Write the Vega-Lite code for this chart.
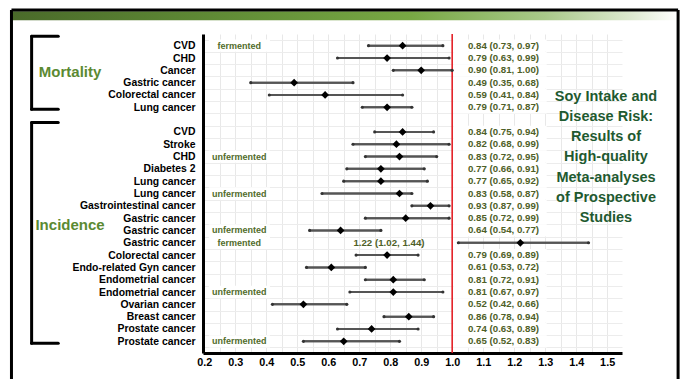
{
"$schema":"https://vega.github.io/schema/vega-lite/v6.json",
"width":419,"height":319,
"autosize":{"type":"none"},
"padding":{"left":203,"top":34,"right":63,"bottom":26},
"background":"white",
"config":{"view":{"stroke":null},"font":"Liberation Sans","axisX":{"labelOverlap":false,"labelFlush":false}},
"title":{"text":["Soy Intake and","Disease Risk:","Results of","High-quality","Meta-analyses","of Prospective","Studies"],"orient":"top","anchor":"start","frame":"group","align":"center","baseline":"top","dx":403,"dy":217,"offset":0,"fontSize":14.5,"fontWeight":"bold","color":"#1f5a30","lineHeight":20.2,"font":"Liberation Sans"},
"datasets":{
"rows":[
{"key":"01|CVD","est":0.84,"lo":0.73,"hi":0.97,"ferment":"fermented","ci":"0.84 (0.73, 0.97)"},
{"key":"02|CHD","est":0.79,"lo":0.63,"hi":0.99,"ferment":"","ci":"0.79 (0.63, 0.99)"},
{"key":"03|Cancer","est":0.90,"lo":0.81,"hi":1.00,"ferment":"","ci":"0.90 (0.81, 1.00)"},
{"key":"04|Gastric cancer","est":0.49,"lo":0.35,"hi":0.68,"ferment":"","ci":"0.49 (0.35, 0.68)"},
{"key":"05|Colorectal cancer","est":0.59,"lo":0.41,"hi":0.84,"ferment":"","ci":"0.59 (0.41, 0.84)"},
{"key":"06|Lung cancer","est":0.79,"lo":0.71,"hi":0.87,"ferment":"","ci":"0.79 (0.71, 0.87)"},
{"key":"08|CVD","est":0.84,"lo":0.75,"hi":0.94,"ferment":"","ci":"0.84 (0.75, 0.94)"},
{"key":"09|Stroke","est":0.82,"lo":0.68,"hi":0.99,"ferment":"","ci":"0.82 (0.68, 0.99)"},
{"key":"10|CHD","est":0.83,"lo":0.72,"hi":0.95,"ferment":"unfermented","ci":"0.83 (0.72, 0.95)"},
{"key":"11|Diabetes 2","est":0.77,"lo":0.66,"hi":0.91,"ferment":"","ci":"0.77 (0.66, 0.91)"},
{"key":"12|Lung cancer","est":0.77,"lo":0.65,"hi":0.92,"ferment":"","ci":"0.77 (0.65, 0.92)"},
{"key":"13|Lung cancer","est":0.83,"lo":0.58,"hi":0.87,"ferment":"unfermented","ci":"0.83 (0.58, 0.87)"},
{"key":"14|Gastrointestinal cancer","est":0.93,"lo":0.87,"hi":0.99,"ferment":"","ci":"0.93 (0.87, 0.99)"},
{"key":"15|Gastric cancer","est":0.85,"lo":0.72,"hi":0.99,"ferment":"","ci":"0.85 (0.72, 0.99)"},
{"key":"16|Gastric cancer","est":0.64,"lo":0.54,"hi":0.77,"ferment":"unfermented","ci":"0.64 (0.54, 0.77)"},
{"key":"17|Gastric cancer","est":1.22,"lo":1.02,"hi":1.44,"ferment":"fermented","ci":"1.22 (1.02, 1.44)"},
{"key":"18|Colorectal cancer","est":0.79,"lo":0.69,"hi":0.89,"ferment":"","ci":"0.79 (0.69, 0.89)"},
{"key":"19|Endo-related Gyn cancer","est":0.61,"lo":0.53,"hi":0.72,"ferment":"","ci":"0.61 (0.53, 0.72)"},
{"key":"20|Endometrial cancer","est":0.81,"lo":0.72,"hi":0.91,"ferment":"","ci":"0.81 (0.72, 0.91)"},
{"key":"21|Endometrial cancer","est":0.81,"lo":0.67,"hi":0.97,"ferment":"unfermented","ci":"0.81 (0.67, 0.97)"},
{"key":"22|Ovarian cancer","est":0.52,"lo":0.42,"hi":0.66,"ferment":"","ci":"0.52 (0.42, 0.66)"},
{"key":"23|Breast cancer","est":0.86,"lo":0.78,"hi":0.94,"ferment":"","ci":"0.86 (0.78, 0.94)"},
{"key":"24|Prostate cancer","est":0.74,"lo":0.63,"hi":0.89,"ferment":"","ci":"0.74 (0.63, 0.89)"},
{"key":"25|Prostate cancer","est":0.65,"lo":0.52,"hi":0.83,"ferment":"unfermented","ci":"0.65 (0.52, 0.83)"}
],
"groups":[
{"group":"Mortality","first":"01|CVD","last":"06|Lung cancer","mid":"03|Cancer"},
{"group":"Incidence","first":"08|CVD","last":"25|Prostate cancer","mid":"15|Gastric cancer"}
],
"one":[{}]
},
"data":{"name":"rows"},
"layer":[
{"mark":{"type":"rule","color":"#555555","strokeWidth":2},
 "encoding":{
  "x":{"field":"lo","type":"quantitative","title":null,"scale":{"domain":[0.196,1.548],"nice":false,"zero":false},
   "axis":{"title":null,"values":[0.2,0.25,0.3,0.35,0.4,0.45,0.5,0.55,0.6,0.65,0.7,0.75,0.8,0.85,0.9,0.95,1.0,1.05,1.1,1.15,1.2,1.25,1.3,1.35,1.4,1.45,1.5],"labelExpr":"abs(datum.value*10 - round(datum.value*10)) < 0.01 ? format(datum.value, '.1f') : ''","ticks":false,"domainColor":"black","domainWidth":3,"labelFont":"Liberation Sans","labelFontSize":10.8,"labelFontWeight":"bold","labelColor":"black","labelPadding":3,"labelFlush":false,"labelOverlap":false,"grid":true,"gridColor":"#e8e8e8","gridWidth":1}},
  "x2":{"field":"hi"},
  "y":{"field":"key","type":"nominal","title":null,
   "scale":{"type":"band","domain":["01|CVD","02|CHD","03|Cancer","04|Gastric cancer","05|Colorectal cancer","06|Lung cancer","07|","08|CVD","09|Stroke","10|CHD","11|Diabetes 2","12|Lung cancer","13|Lung cancer","14|Gastrointestinal cancer","15|Gastric cancer","16|Gastric cancer","17|Gastric cancer","18|Colorectal cancer","19|Endo-related Gyn cancer","20|Endometrial cancer","21|Endometrial cancer","22|Ovarian cancer","23|Breast cancer","24|Prostate cancer","25|Prostate cancer"],"paddingInner":0,"paddingOuter":0.45},
   "axis":{"title":null,"ticks":false,"domainColor":"black","domainWidth":3,"labelFont":"Liberation Sans","labelFontSize":10.4,"labelFontWeight":"bold","labelColor":"black","labelPadding":8,"labelExpr":"slice(datum.label, 3)","grid":true,"gridColor":"#ececec","tickBand":"extent"}}}},
{"data":{"name":"one"},
 "mark":{"type":"bar","size":9,"yOffset":-30,"color":{"gradient":"linear","x1":0,"x2":1,"y1":0,"y2":0,"stops":[{"offset":0,"color":"#4a6a2a"},{"offset":0.3,"color":"#5f8a35"},{"offset":0.6,"color":"#78a844"},{"offset":0.8,"color":"#a9c98a"},{"offset":0.93,"color":"#dde9d0"},{"offset":1,"color":"#ffffff"}]}},
 "encoding":{"x":{"datum":-0.422,"type":"quantitative","axis":{"title":null,"values":[0.2,0.25,0.3,0.35,0.4,0.45,0.5,0.55,0.6,0.65,0.7,0.75,0.8,0.85,0.9,0.95,1.0,1.05,1.1,1.15,1.2,1.25,1.3,1.35,1.4,1.45,1.5],"labelExpr":"abs(datum.value*10 - round(datum.value*10)) < 0.01 ? format(datum.value, '.1f') : ''","ticks":false,"domainColor":"black","domainWidth":3,"labelFont":"Liberation Sans","labelFontSize":10.8,"labelFontWeight":"bold","labelColor":"black","labelPadding":3,"labelFlush":false,"labelOverlap":false,"grid":true,"gridColor":"#e8e8e8","gridWidth":1}},"x2":{"datum":1.729},"y":{"datum":"01|CVD","type":"nominal"}}},
{"data":{"name":"one"},
 "mark":{"type":"rule","color":"black","strokeWidth":3,"yOffset":-35.7},
 "encoding":{"x":{"datum":-0.422,"type":"quantitative","axis":{"title":null,"values":[0.2,0.25,0.3,0.35,0.4,0.45,0.5,0.55,0.6,0.65,0.7,0.75,0.8,0.85,0.9,0.95,1.0,1.05,1.1,1.15,1.2,1.25,1.3,1.35,1.4,1.45,1.5],"labelExpr":"abs(datum.value*10 - round(datum.value*10)) < 0.01 ? format(datum.value, '.1f') : ''","ticks":false,"domainColor":"black","domainWidth":3,"labelFont":"Liberation Sans","labelFontSize":10.8,"labelFontWeight":"bold","labelColor":"black","labelPadding":3,"labelFlush":false,"labelOverlap":false,"grid":true,"gridColor":"#e8e8e8","gridWidth":1}},"x2":{"datum":1.729},"y":{"datum":"01|CVD","type":"nominal"}}},
{"data":{"name":"one"},
 "mark":{"type":"rule","color":"black","strokeWidth":3,"yOffset":-35.7,"y2Offset":50},
 "encoding":{"x":{"datum":-0.422,"type":"quantitative","axis":{"title":null,"values":[0.2,0.25,0.3,0.35,0.4,0.45,0.5,0.55,0.6,0.65,0.7,0.75,0.8,0.85,0.9,0.95,1.0,1.05,1.1,1.15,1.2,1.25,1.3,1.35,1.4,1.45,1.5],"labelExpr":"abs(datum.value*10 - round(datum.value*10)) < 0.01 ? format(datum.value, '.1f') : ''","ticks":false,"domainColor":"black","domainWidth":3,"labelFont":"Liberation Sans","labelFontSize":10.8,"labelFontWeight":"bold","labelColor":"black","labelPadding":3,"labelFlush":false,"labelOverlap":false,"grid":true,"gridColor":"#e8e8e8","gridWidth":1}},"y":{"datum":"01|CVD","type":"nominal"},"y2":{"datum":"25|Prostate cancer"}}},
{"data":{"name":"one"},
 "mark":{"type":"rule","color":"black","strokeWidth":3,"yOffset":-35.7,"y2Offset":50},
 "encoding":{"x":{"datum":1.729,"type":"quantitative","axis":{"title":null,"values":[0.2,0.25,0.3,0.35,0.4,0.45,0.5,0.55,0.6,0.65,0.7,0.75,0.8,0.85,0.9,0.95,1.0,1.05,1.1,1.15,1.2,1.25,1.3,1.35,1.4,1.45,1.5],"labelExpr":"abs(datum.value*10 - round(datum.value*10)) < 0.01 ? format(datum.value, '.1f') : ''","ticks":false,"domainColor":"black","domainWidth":3,"labelFont":"Liberation Sans","labelFontSize":10.8,"labelFontWeight":"bold","labelColor":"black","labelPadding":3,"labelFlush":false,"labelOverlap":false,"grid":true,"gridColor":"#e8e8e8","gridWidth":1}},"y":{"datum":"01|CVD","type":"nominal"},"y2":{"datum":"25|Prostate cancer"}}},
{"transform":[{"filter":"datum.est < 1"}],
 "mark":{"type":"bar","color":"white","height":{"band":1}},
 "encoding":{"x":{"datum":1.004,"type":"quantitative","axis":{"title":null,"values":[0.2,0.25,0.3,0.35,0.4,0.45,0.5,0.55,0.6,0.65,0.7,0.75,0.8,0.85,0.9,0.95,1.0,1.05,1.1,1.15,1.2,1.25,1.3,1.35,1.4,1.45,1.5],"labelExpr":"abs(datum.value*10 - round(datum.value*10)) < 0.01 ? format(datum.value, '.1f') : ''","ticks":false,"domainColor":"black","domainWidth":3,"labelFont":"Liberation Sans","labelFontSize":10.8,"labelFontWeight":"bold","labelColor":"black","labelPadding":3,"labelFlush":false,"labelOverlap":false,"grid":true,"gridColor":"#e8e8e8","gridWidth":1}},"x2":{"datum":1.305},"y":{"field":"key","type":"nominal","title":null}}},
{"transform":[{"filter":"datum.ferment != ''"}],
 "mark":{"type":"bar","color":"white","height":{"band":1}},
 "encoding":{"x":{"datum":0.215,"type":"quantitative","axis":{"title":null,"values":[0.2,0.25,0.3,0.35,0.4,0.45,0.5,0.55,0.6,0.65,0.7,0.75,0.8,0.85,0.9,0.95,1.0,1.05,1.1,1.15,1.2,1.25,1.3,1.35,1.4,1.45,1.5],"labelExpr":"abs(datum.value*10 - round(datum.value*10)) < 0.01 ? format(datum.value, '.1f') : ''","ticks":false,"domainColor":"black","domainWidth":3,"labelFont":"Liberation Sans","labelFontSize":10.8,"labelFontWeight":"bold","labelColor":"black","labelPadding":3,"labelFlush":false,"labelOverlap":false,"grid":true,"gridColor":"#e8e8e8","gridWidth":1}},"x2":{"datum":0.412},"y":{"field":"key","type":"nominal","title":null}}},
{"data":{"name":"one"},
 "mark":{"type":"rule","color":"#e3141b","strokeWidth":1.5},
 "encoding":{"x":{"datum":1,"type":"quantitative","axis":{"title":null,"values":[0.2,0.25,0.3,0.35,0.4,0.45,0.5,0.55,0.6,0.65,0.7,0.75,0.8,0.85,0.9,0.95,1.0,1.05,1.1,1.15,1.2,1.25,1.3,1.35,1.4,1.45,1.5],"labelExpr":"abs(datum.value*10 - round(datum.value*10)) < 0.01 ? format(datum.value, '.1f') : ''","ticks":false,"domainColor":"black","domainWidth":3,"labelFont":"Liberation Sans","labelFontSize":10.8,"labelFontWeight":"bold","labelColor":"black","labelPadding":3,"labelFlush":false,"labelOverlap":false,"grid":true,"gridColor":"#e8e8e8","gridWidth":1}}}},
{"mark":{"type":"rule","color":"#555555","strokeWidth":2},
 "encoding":{"x":{"field":"lo","type":"quantitative","title":null,"axis":{"title":null,"values":[0.2,0.25,0.3,0.35,0.4,0.45,0.5,0.55,0.6,0.65,0.7,0.75,0.8,0.85,0.9,0.95,1.0,1.05,1.1,1.15,1.2,1.25,1.3,1.35,1.4,1.45,1.5],"labelExpr":"abs(datum.value*10 - round(datum.value*10)) < 0.01 ? format(datum.value, '.1f') : ''","ticks":false,"domainColor":"black","domainWidth":3,"labelFont":"Liberation Sans","labelFontSize":10.8,"labelFontWeight":"bold","labelColor":"black","labelPadding":3,"labelFlush":false,"labelOverlap":false,"grid":true,"gridColor":"#e8e8e8","gridWidth":1}},"x2":{"field":"hi"},"y":{"field":"key","type":"nominal","title":null}}},
{"mark":{"type":"point","shape":"circle","filled":true,"color":"#333333","size":10,"opacity":1},
 "encoding":{"x":{"field":"lo","type":"quantitative","title":null,"axis":{"title":null,"values":[0.2,0.25,0.3,0.35,0.4,0.45,0.5,0.55,0.6,0.65,0.7,0.75,0.8,0.85,0.9,0.95,1.0,1.05,1.1,1.15,1.2,1.25,1.3,1.35,1.4,1.45,1.5],"labelExpr":"abs(datum.value*10 - round(datum.value*10)) < 0.01 ? format(datum.value, '.1f') : ''","ticks":false,"domainColor":"black","domainWidth":3,"labelFont":"Liberation Sans","labelFontSize":10.8,"labelFontWeight":"bold","labelColor":"black","labelPadding":3,"labelFlush":false,"labelOverlap":false,"grid":true,"gridColor":"#e8e8e8","gridWidth":1}},"y":{"field":"key","type":"nominal","title":null}}},
{"mark":{"type":"point","shape":"circle","filled":true,"color":"#333333","size":10,"opacity":1},
 "encoding":{"x":{"field":"hi","type":"quantitative","title":null,"axis":{"title":null,"values":[0.2,0.25,0.3,0.35,0.4,0.45,0.5,0.55,0.6,0.65,0.7,0.75,0.8,0.85,0.9,0.95,1.0,1.05,1.1,1.15,1.2,1.25,1.3,1.35,1.4,1.45,1.5],"labelExpr":"abs(datum.value*10 - round(datum.value*10)) < 0.01 ? format(datum.value, '.1f') : ''","ticks":false,"domainColor":"black","domainWidth":3,"labelFont":"Liberation Sans","labelFontSize":10.8,"labelFontWeight":"bold","labelColor":"black","labelPadding":3,"labelFlush":false,"labelOverlap":false,"grid":true,"gridColor":"#e8e8e8","gridWidth":1}},"y":{"field":"key","type":"nominal","title":null}}},
{"mark":{"type":"point","shape":"diamond","filled":true,"color":"black","size":60,"opacity":1},
 "encoding":{"x":{"field":"est","type":"quantitative","title":null,"axis":{"title":null,"values":[0.2,0.25,0.3,0.35,0.4,0.45,0.5,0.55,0.6,0.65,0.7,0.75,0.8,0.85,0.9,0.95,1.0,1.05,1.1,1.15,1.2,1.25,1.3,1.35,1.4,1.45,1.5],"labelExpr":"abs(datum.value*10 - round(datum.value*10)) < 0.01 ? format(datum.value, '.1f') : ''","ticks":false,"domainColor":"black","domainWidth":3,"labelFont":"Liberation Sans","labelFontSize":10.8,"labelFontWeight":"bold","labelColor":"black","labelPadding":3,"labelFlush":false,"labelOverlap":false,"grid":true,"gridColor":"#e8e8e8","gridWidth":1}},"y":{"field":"key","type":"nominal","title":null}}},
{"transform":[{"filter":"datum.est < 1"}],
 "mark":{"type":"text","align":"left","baseline":"middle","fontSize":9.7,"fontWeight":"bold","color":"#4e6027","font":"Liberation Sans"},
 "encoding":{"x":{"datum":1.051,"type":"quantitative","axis":{"title":null,"values":[0.2,0.25,0.3,0.35,0.4,0.45,0.5,0.55,0.6,0.65,0.7,0.75,0.8,0.85,0.9,0.95,1.0,1.05,1.1,1.15,1.2,1.25,1.3,1.35,1.4,1.45,1.5],"labelExpr":"abs(datum.value*10 - round(datum.value*10)) < 0.01 ? format(datum.value, '.1f') : ''","ticks":false,"domainColor":"black","domainWidth":3,"labelFont":"Liberation Sans","labelFontSize":10.8,"labelFontWeight":"bold","labelColor":"black","labelPadding":3,"labelFlush":false,"labelOverlap":false,"grid":true,"gridColor":"#e8e8e8","gridWidth":1}},"y":{"field":"key","type":"nominal","title":null},"text":{"field":"ci"}}},
{"transform":[{"filter":"datum.est >= 1"}],
 "mark":{"type":"text","align":"center","baseline":"middle","fontSize":9.7,"fontWeight":"bold","color":"#4e6027","font":"Liberation Sans"},
 "encoding":{"x":{"datum":0.796,"type":"quantitative","axis":{"title":null,"values":[0.2,0.25,0.3,0.35,0.4,0.45,0.5,0.55,0.6,0.65,0.7,0.75,0.8,0.85,0.9,0.95,1.0,1.05,1.1,1.15,1.2,1.25,1.3,1.35,1.4,1.45,1.5],"labelExpr":"abs(datum.value*10 - round(datum.value*10)) < 0.01 ? format(datum.value, '.1f') : ''","ticks":false,"domainColor":"black","domainWidth":3,"labelFont":"Liberation Sans","labelFontSize":10.8,"labelFontWeight":"bold","labelColor":"black","labelPadding":3,"labelFlush":false,"labelOverlap":false,"grid":true,"gridColor":"#e8e8e8","gridWidth":1}},"y":{"field":"key","type":"nominal","title":null},"text":{"field":"ci"}}},
{"transform":[{"filter":"datum.ferment != ''"}],
 "mark":{"type":"text","align":"center","baseline":"middle","fontSize":9,"fontWeight":"bold","color":"#516b2b","font":"Liberation Sans"},
 "encoding":{"x":{"datum":0.313,"type":"quantitative","axis":{"title":null,"values":[0.2,0.25,0.3,0.35,0.4,0.45,0.5,0.55,0.6,0.65,0.7,0.75,0.8,0.85,0.9,0.95,1.0,1.05,1.1,1.15,1.2,1.25,1.3,1.35,1.4,1.45,1.5],"labelExpr":"abs(datum.value*10 - round(datum.value*10)) < 0.01 ? format(datum.value, '.1f') : ''","ticks":false,"domainColor":"black","domainWidth":3,"labelFont":"Liberation Sans","labelFontSize":10.8,"labelFontWeight":"bold","labelColor":"black","labelPadding":3,"labelFlush":false,"labelOverlap":false,"grid":true,"gridColor":"#e8e8e8","gridWidth":1}},"y":{"field":"key","type":"nominal","title":null},"text":{"field":"ferment"}}},
{"data":{"name":"groups"},"transform":[{"filter":"datum.group == 'Mortality'"}],
 "mark":{"type":"text","align":"center","baseline":"middle","fontSize":15,"fontWeight":"bold","color":"#5b8a32","font":"Liberation Sans","dy":1.4},
 "encoding":{"x":{"datum":-0.233,"type":"quantitative","axis":{"title":null,"values":[0.2,0.25,0.3,0.35,0.4,0.45,0.5,0.55,0.6,0.65,0.7,0.75,0.8,0.85,0.9,0.95,1.0,1.05,1.1,1.15,1.2,1.25,1.3,1.35,1.4,1.45,1.5],"labelExpr":"abs(datum.value*10 - round(datum.value*10)) < 0.01 ? format(datum.value, '.1f') : ''","ticks":false,"domainColor":"black","domainWidth":3,"labelFont":"Liberation Sans","labelFontSize":10.8,"labelFontWeight":"bold","labelColor":"black","labelPadding":3,"labelFlush":false,"labelOverlap":false,"grid":true,"gridColor":"#e8e8e8","gridWidth":1}},"y":{"field":"mid","type":"nominal","title":null},"text":{"field":"group"}}},
{"data":{"name":"groups"},"transform":[{"filter":"datum.group == 'Incidence'"}],
 "mark":{"type":"text","align":"center","baseline":"middle","fontSize":15,"fontWeight":"bold","color":"#5b8a32","font":"Liberation Sans","dy":6.8},
 "encoding":{"x":{"datum":-0.233,"type":"quantitative","axis":{"title":null,"values":[0.2,0.25,0.3,0.35,0.4,0.45,0.5,0.55,0.6,0.65,0.7,0.75,0.8,0.85,0.9,0.95,1.0,1.05,1.1,1.15,1.2,1.25,1.3,1.35,1.4,1.45,1.5],"labelExpr":"abs(datum.value*10 - round(datum.value*10)) < 0.01 ? format(datum.value, '.1f') : ''","ticks":false,"domainColor":"black","domainWidth":3,"labelFont":"Liberation Sans","labelFontSize":10.8,"labelFontWeight":"bold","labelColor":"black","labelPadding":3,"labelFlush":false,"labelOverlap":false,"grid":true,"gridColor":"#e8e8e8","gridWidth":1}},"y":{"field":"mid","type":"nominal","title":null},"text":{"field":"group"}}},
{"data":{"name":"groups"},
 "mark":{"type":"rule","color":"black","strokeWidth":3,"strokeCap":"round","yOffset":-9.5,"y2Offset":2},
 "encoding":{"x":{"datum":-0.357,"type":"quantitative","axis":{"title":null,"values":[0.2,0.25,0.3,0.35,0.4,0.45,0.5,0.55,0.6,0.65,0.7,0.75,0.8,0.85,0.9,0.95,1.0,1.05,1.1,1.15,1.2,1.25,1.3,1.35,1.4,1.45,1.5],"labelExpr":"abs(datum.value*10 - round(datum.value*10)) < 0.01 ? format(datum.value, '.1f') : ''","ticks":false,"domainColor":"black","domainWidth":3,"labelFont":"Liberation Sans","labelFontSize":10.8,"labelFontWeight":"bold","labelColor":"black","labelPadding":3,"labelFlush":false,"labelOverlap":false,"grid":true,"gridColor":"#e8e8e8","gridWidth":1}},"y":{"field":"first","type":"nominal","title":null},"y2":{"field":"last"}}},
{"data":{"name":"groups"},
 "mark":{"type":"rule","color":"black","strokeWidth":3,"strokeCap":"round","yOffset":-9.5},
 "encoding":{"x":{"datum":-0.357,"type":"quantitative","axis":{"title":null,"values":[0.2,0.25,0.3,0.35,0.4,0.45,0.5,0.55,0.6,0.65,0.7,0.75,0.8,0.85,0.9,0.95,1.0,1.05,1.1,1.15,1.2,1.25,1.3,1.35,1.4,1.45,1.5],"labelExpr":"abs(datum.value*10 - round(datum.value*10)) < 0.01 ? format(datum.value, '.1f') : ''","ticks":false,"domainColor":"black","domainWidth":3,"labelFont":"Liberation Sans","labelFontSize":10.8,"labelFontWeight":"bold","labelColor":"black","labelPadding":3,"labelFlush":false,"labelOverlap":false,"grid":true,"gridColor":"#e8e8e8","gridWidth":1}},"x2":{"datum":-0.271},"y":{"field":"first","type":"nominal","title":null}}},
{"data":{"name":"groups"},
 "mark":{"type":"rule","color":"black","strokeWidth":3,"strokeCap":"round","yOffset":2},
 "encoding":{"x":{"datum":-0.357,"type":"quantitative","axis":{"title":null,"values":[0.2,0.25,0.3,0.35,0.4,0.45,0.5,0.55,0.6,0.65,0.7,0.75,0.8,0.85,0.9,0.95,1.0,1.05,1.1,1.15,1.2,1.25,1.3,1.35,1.4,1.45,1.5],"labelExpr":"abs(datum.value*10 - round(datum.value*10)) < 0.01 ? format(datum.value, '.1f') : ''","ticks":false,"domainColor":"black","domainWidth":3,"labelFont":"Liberation Sans","labelFontSize":10.8,"labelFontWeight":"bold","labelColor":"black","labelPadding":3,"labelFlush":false,"labelOverlap":false,"grid":true,"gridColor":"#e8e8e8","gridWidth":1}},"x2":{"datum":-0.271},"y":{"field":"last","type":"nominal","title":null}}}
]
}
